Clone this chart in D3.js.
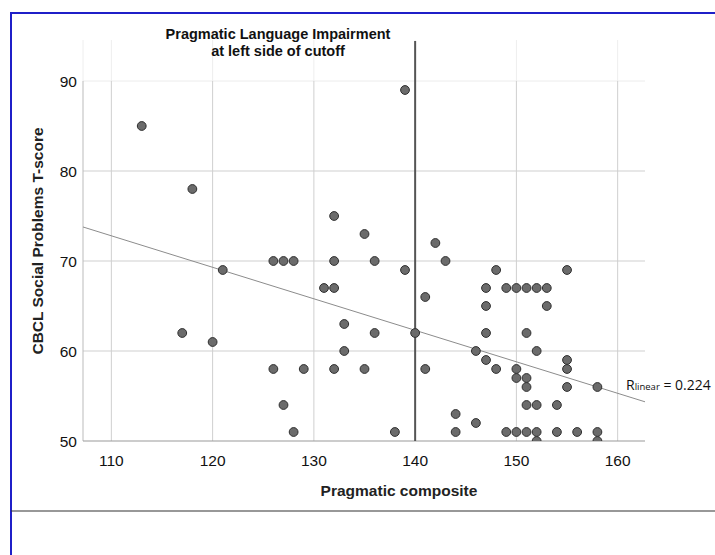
<!DOCTYPE html>
<html>
<head>
<meta charset="utf-8">
<script src="https://cdn.jsdelivr.net/npm/d3@7"></script>
<style>
  body { margin: 0; background: #fff; }
  svg { display: block; }
  text { font-family: "Liberation Sans", Arial, sans-serif; fill: #111; }
</style>
</head>
<body>
<svg id="chart" width="715" height="555"></svg>
<script>
// valeurs
const pragmatic = [113, 118, 132, 135, 139, 142, 143, 126, 127, 128, 132, 136, 121, 131, 132,
    133, 136, 117, 120, 133, 126, 129, 132, 135, 127, 128, 138, 139, 148, 155,
    147, 149, 150, 151, 152, 153, 141, 147, 153, 140, 147, 151, 146, 152, 147,
    155, 141, 148, 150, 155, 150, 151, 151, 155, 158, 151, 152, 154, 144, 146,
    144, 149, 150, 151, 152, 154, 156, 158, 152, 158];
const socialT = [85, 78, 75, 73, 89, 72, 70, 70, 70, 70, 70, 70, 69, 67, 67,
    63, 62, 62, 61, 60, 58, 58, 58, 58, 54, 51, 51, 69, 69, 69,
    67, 67, 67, 67, 67, 67, 66, 65, 65, 62, 62, 62, 60, 60, 59,
    59, 58, 58, 58, 58, 57, 57, 56, 56, 56, 54, 54, 54, 53, 52,
    51, 51, 51, 51, 51, 51, 51, 51, 50, 50];
const xTicks = [110, 120, 130, 140, 150, 160];
const yTicks = [50, 60, 70, 80, 90];
const cutoff = 140;
const fitIntercept = 111.3;
const fitSlope = -0.35;
const rSquared = "0.224";

const svg = d3.select("#chart");
const pLeft = 83, pRight = 645, pTop = 81, pBottom = 441;

const x = d3.scaleLinear().domain([107.2, 162.7]).range([pLeft, pRight]);
const y = d3.scaleLinear().domain([50, 90]).range([pBottom, pTop]);

// cadre bleu
svg.append("line").attr("x1", 11).attr("x2", 715).attr("y1", 13).attr("y2", 13)
    .attr("stroke", "#1f1fc8").attr("stroke-width", 2);
svg.append("line").attr("x1", 11).attr("x2", 11).attr("y1", 12).attr("y2", 555)
    .attr("stroke", "#1f1fc8").attr("stroke-width", 2);
svg.append("line").attr("x1", 11).attr("x2", 715).attr("y1", 511).attr("y2", 511)
    .attr("stroke", "#333").attr("stroke-width", 1.2);

svg.append("clipPath").attr("id", "clip")
    .append("rect").attr("x", pLeft).attr("y", 30).attr("width", pRight - pLeft).attr("height", pBottom - 30);

const g = svg.append("g");

// prolongement pale des lignes verticales
g.selectAll(".vfaint").data(xTicks).enter().append("line")
    .attr("x1", d => x(d)).attr("x2", d => x(d))
    .attr("y1", 40).attr("y2", pTop)
    .attr("stroke", "#eeeeee");
g.append("line").attr("x1", pLeft).attr("x2", pLeft).attr("y1", 40).attr("y2", pTop)
    .attr("stroke", "#eeeeee");

// grille
g.selectAll(".hgrid").data(yTicks.slice(1)).enter().append("line")
    .attr("x1", pLeft).attr("x2", pRight)
    .attr("y1", d => y(d)).attr("y2", d => y(d))
    .attr("stroke", d => d === 90 ? "#ececec" : "#cfcfcf");
g.selectAll(".vgrid").data(xTicks.filter(d => d !== cutoff)).enter().append("line")
    .attr("x1", d => x(d)).attr("x2", d => x(d))
    .attr("y1", pTop).attr("y2", pBottom)
    .attr("stroke", "#cfcfcf");

// axes
g.append("line").attr("x1", pLeft).attr("x2", pLeft).attr("y1", pTop).attr("y2", pBottom)
    .attr("stroke", "#bbb");
g.append("line").attr("x1", pLeft).attr("x2", pRight).attr("y1", pBottom).attr("y2", pBottom)
    .attr("stroke", "#999");

// ligne de regression
g.append("line")
    .attr("x1", x(107.2)).attr("y1", y(fitIntercept + fitSlope * 107.2))
    .attr("x2", x(162.7)).attr("y2", y(fitIntercept + fitSlope * 162.7))
    .attr("stroke", "#8c8c8c").attr("stroke-width", 1);

// seuil
g.append("line").attr("x1", x(cutoff)).attr("x2", x(cutoff)).attr("y1", 41).attr("y2", pBottom)
    .attr("stroke", "#555").attr("stroke-width", 2);

// points
g.append("g").attr("clip-path", "url(#clip)")
    .selectAll("circle").data(pragmatic).enter().append("circle")
    .attr("cx", d => x(d))
    .attr("cy", (d, i) => y(socialT[i]))
    .attr("r", 4.4)
    .attr("fill", "#6b6b6b")
    .attr("stroke", "#2e2e2e")
    .attr("stroke-width", 1);

// libelles des graduations
g.selectAll(".xlab").data(xTicks).enter().append("text")
    .attr("x", d => x(d)).attr("y", 466)
    .attr("text-anchor", "middle")
    .style("font-size", "15.5px")
    .text(d => d);
g.selectAll(".ylab").data(yTicks).enter().append("text")
    .attr("x", 77).attr("y", d => y(d) + 6)
    .attr("text-anchor", "end")
    .style("font-size", "15.5px")
    .text(d => d);

// titres
g.append("text").attr("x", 399).attr("y", 496).attr("text-anchor", "middle")
    .style("font-size", "15.5px").style("font-weight", "bold").style("fill", "#222")
    .text("Pragmatic composite");
g.append("text").attr("transform", "translate(43,241) rotate(-90)").attr("text-anchor", "middle")
    .style("font-size", "15.5px").style("font-weight", "bold").style("fill", "#222")
    .text("CBCL Social Problems T-score");
const title = g.append("text").attr("text-anchor", "middle")
    .style("font-size", "14.5px").style("font-weight", "bold").style("fill", "#111");
title.append("tspan").attr("x", 278).attr("y", 39).text("Pragmatic Language Impairment");
title.append("tspan").attr("x", 278).attr("y", 56).text("at left side of cutoff");

// R carre
const rl = g.append("text").attr("x", 626).attr("y", 390)
    .style("font-family", "'Open Sans', sans-serif").style("font-size", "14px");
rl.append("tspan").text("R");
rl.append("tspan").style("font-size", "9.5px").text("linear");
rl.append("tspan").text(" = " + rSquared);
</script>
</body>
</html>
